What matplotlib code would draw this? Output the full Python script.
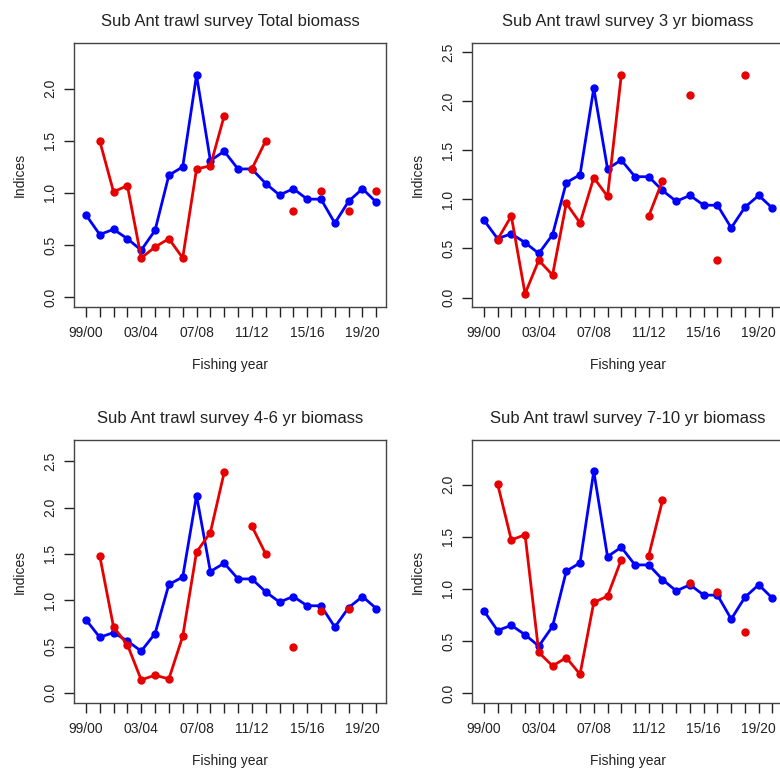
import numpy as np
import matplotlib.pyplot as plt

plt.rcParams['font.family'] = ['Liberation Sans', 'DejaVu Sans']

nan = np.nan
years = np.arange(22)
tick_labels = ['99/00', '03/04', '07/08', '11/12', '15/16', '19/20']

# blue: the same index in every panel
blue = [0.79, 0.60, 0.65, 0.56, 0.45, 0.64, 1.17, 1.25, 2.13, 1.31, 1.40,
        1.23, 1.23, 1.09, 0.98, 1.04, 0.94, 0.94, 0.71, 0.92, 1.04, 0.91]

# red: survey index for each panel
red_total = [nan, 1.50, 1.01, 1.07, 0.375, 0.48, 0.56, 0.375, 1.23, 1.26, 1.74,
             nan, 1.23, 1.50, nan, 0.83, nan, 1.02, nan, 0.83, nan, 1.02]
red_3yr = [nan, 0.59, 0.83, 0.04, 0.38, 0.23, 0.96, 0.76, 1.22, 1.03, 2.26,
           nan, 0.83, 1.19, nan, 2.06, nan, 0.38, nan, 2.26, nan, nan]
red_4_6 = [nan, 1.48, 0.71, 0.52, 0.14, 0.19, 0.15, 0.61, 1.52, 1.73, 2.38,
           nan, 1.80, 1.50, nan, 0.49, nan, 0.88, nan, 0.91, nan, nan]
red_7_10 = [nan, 2.01, 1.47, 1.52, 0.39, 0.26, 0.34, 0.18, 0.87, 0.93, 1.28,
            nan, 1.32, 1.85, nan, 1.06, nan, 0.97, nan, 0.59, nan, nan]

titles = ['Sub Ant trawl survey Total biomass', 'Sub Ant trawl survey 3 yr biomass',
          'Sub Ant trawl survey 4-6 yr biomass', 'Sub Ant trawl survey 7-10 yr biomass']
reds = [red_total, red_3yr, red_4_6, red_7_10]
ylims = [(-0.096, 2.44), (-0.095, 2.59), (-0.11, 2.73), (-0.096, 2.43)]
yticks = [[0, 0.5, 1.0, 1.5, 2.0], [0, 0.5, 1.0, 1.5, 2.0, 2.5],
          [0, 0.5, 1.0, 1.5, 2.0, 2.5], [0, 0.5, 1.0, 1.5, 2.0]]

W, H = 780, 769
fig = plt.figure(figsize=(W / 100, H / 100), dpi=100)
# boxes in pixels: left, top, right, bottom
boxes = [(74, 43, 386, 307), (472, 43, 784, 307),
         (74, 440, 386, 703), (472, 440, 784, 703)]

ink = '#222222'
for i in range(4):
    l, t, r, b = boxes[i]
    ax = fig.add_axes([l / W, 1 - b / H, (r - l) / W, (b - t) / H])
    ax.plot(years, blue, color='#0000ff', lw=2, marker='o', ms=5)
    ax.plot(years, reds[i], color='#e60000', lw=2, marker='o', ms=5)
    ax.set_xlim(-0.86, 21.7 if i % 2 == 0 else 21.84)
    ax.set_ylim(*ylims[i])
    ax.set_xticks(years)
    ax.set_xticklabels([tick_labels[k // 4] if k % 4 == 0 else '' for k in years])
    ax.set_yticks(yticks[i])
    ax.set_yticklabels(['%.1f' % v for v in yticks[i]], rotation=90, va='center')
    ax.tick_params(length=7, width=1, color=ink, labelcolor=ink, labelsize=10, pad=7)
    ax.tick_params(axis='y', pad=5)
    for s in ax.spines.values():
        s.set_color('#444444')
        s.set_linewidth(1)
    ax.set_title(titles[i], fontsize=12, color=ink, pad=12)
    ax.set_xlabel('Fishing year', fontsize=10, color=ink, labelpad=13)
    ax.set_ylabel('Indices', fontsize=10, color=ink, labelpad=12)

fig.savefig('out.png', dpi=100)
